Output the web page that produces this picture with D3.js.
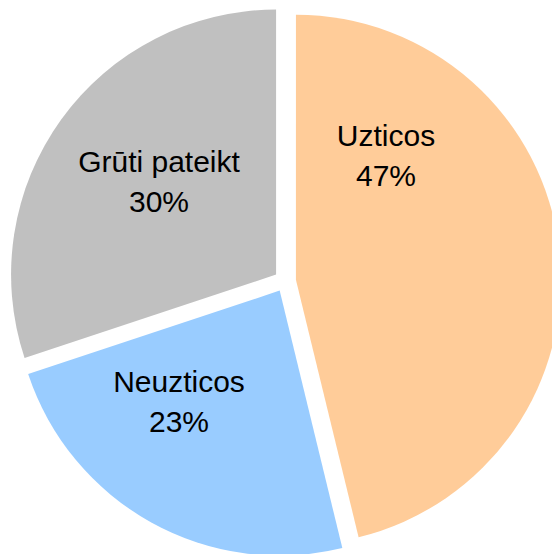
<!DOCTYPE html>
<html>
<head>
<meta charset="utf-8">
<script src="https://cdn.jsdelivr.net/npm/d3@7"></script>
<style>
  html, body { margin: 0; padding: 0; background: #fff; }
  svg { display: block; }
</style>
</head>
<body>
<svg width="552" height="554"></svg>
<script>
// data
const categories = ["Uzticos", "Neuzticos", "Grūti pateikt"];
const shares = [46.2, 23.7, 30.1];
const percentLabels = ["47%", "23%", "30%"];
const sliceColors = ["#FFCC99", "#99CCFF", "#C0C0C0"];

// label block centres, relative to the pie centre
const labelOffsets = [[101, -125], [-106, 121], [-126, -99]];

const width = 552, height = 554;
const cx = 285, cy = 281;
const radius = 265;
const explode = 11;

const svg = d3.select("svg");
const g = svg.append("g").attr("transform", `translate(${cx},${cy})`);

const pie = d3.pie().sort(null).value((d) => d.value);
const arc = d3.arc().innerRadius(0).outerRadius(radius);

const data = categories.map((c, i) => ({ name: c, value: shares[i], label: percentLabels[i], color: sliceColors[i] }));
const arcs = pie(data);

g.selectAll("path")
  .data(arcs)
  .join("path")
  .attr("d", arc)
  .attr("transform", (d) => {
    const mid = (d.startAngle + d.endAngle) / 2;
    return `translate(${explode * Math.sin(mid)},${-explode * Math.cos(mid)})`;
  })
  .style("fill", (d) => d.data.color);

const labels = g.selectAll("text")
  .data(arcs)
  .join("text")
  .attr("text-anchor", "middle")
  .style("font-family", "Arial, 'Liberation Sans', sans-serif")
  .style("font-size", "30px")
  .style("fill", "#000")
  .attr("transform", (d) => `translate(${labelOffsets[d.index][0]},${labelOffsets[d.index][1]})`);

labels.append("tspan")
  .attr("x", 0)
  .attr("y", -10)
  .text((d) => d.data.name);

labels.append("tspan")
  .attr("x", 0)
  .attr("y", 30)
  .text((d) => d.data.label);
</script>
</body>
</html>
